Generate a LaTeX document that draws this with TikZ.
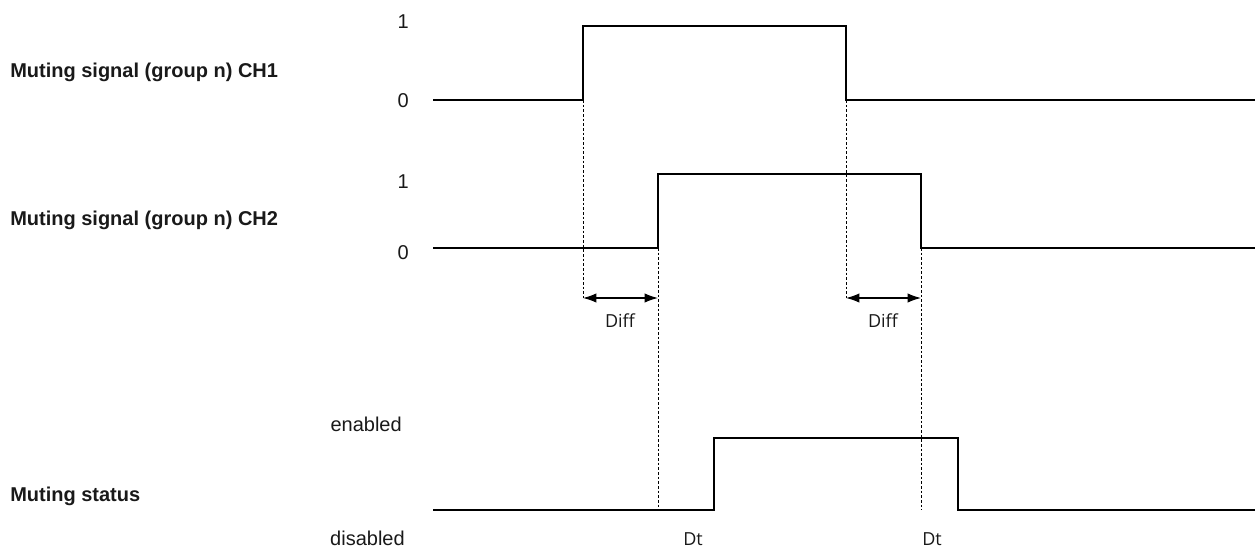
\documentclass[tikz,border=0pt]{standalone}
\usepackage{fontspec}
\setmainfont{Liberation Sans}
\newfontfamily\diffont{Open Sans}
\usepackage{tikz}
\usetikzlibrary{arrows.meta, positioning, calc}

\begin{document}
\begin{tikzpicture}[
    x=0.75pt, y=-0.75pt,
    >={Latex[length=10pt, width=7pt]},
    every node/.style={font=\fontsize{15}{17}\selectfont, text=black!90, inner sep=0pt},
    chanLabel/.style={font=\fontsize{15}{17}\selectfont\bfseries, anchor=west},
    levelLabel/.style={anchor=east},
    timeLabel/.style={font=\diffont\fontsize{13.5}{15}\selectfont},
    signal/.style={draw=black, line width=0.8pt},
    status/.style={draw=black, line width=1.5pt},
    guide/.style={draw=black, line width=0.6pt, dash pattern=on 2pt off 1.5pt},
    span/.style={<->, draw=black, line width=0.9pt}
  ]
    \useasboundingbox (0,0) rectangle (1255,550);

    % channel 1
    \node[chanLabel] (ch1) at (10,72) {Muting signal (group n) CH1};
    \node[levelLabel] (ch1hi) at (409,22) {1};
    \node[levelLabel] (ch1lo) at (409,101) {0};
    \coordinate (a1) at (583,100);
    \coordinate (a2) at (846,100);
    \draw[signal] (433,100) -- (a1) -- (583,26) -- (846,26) -- (a2) -- (1255,100);

    % channel 2
    \node[chanLabel] (ch2) at (10,220) {Muting signal (group n) CH2};
    \node[levelLabel] (ch2hi) at (409,182) {1};
    \node[levelLabel] (ch2lo) at (409,253) {0};
    \coordinate (b1) at (658,248);
    \coordinate (b2) at (921,248);
    \draw[signal] (433,248) -- (b1) -- (658,174) -- (921,174) -- (b2) -- (1255,248);

    % status
    \node[chanLabel] (st) at (10,496) {Muting status};
    \node[levelLabel] (sthi) at (402,424) {enabled};
    \node[levelLabel] (stlo) at (405,538) {disabled};
    \draw[status] (433,510) -- (714,510) -- (714,438) -- (958,438) -- (958,510) -- (1255,510);

    % guides and spans
    \coordinate (a1d) at (583,298);
    \coordinate (a2d) at (846,298);
    \coordinate (b1m) at (658,298);
    \coordinate (b2m) at (921,298);
    \coordinate (b1d) at (658,510);
    \coordinate (b2d) at (921,510);
    \draw[guide] (a1) -- (a1d);
    \draw[guide] (a2) -- (a2d);
    \draw[guide] (b1) -- (b1d);
    \draw[guide] (b2) -- (b2d);
    \draw[span] (a1d) -- (b1m);
    \draw[span] (a2d) -- (b2m);
    \node[timeLabel] (diff1) at (620,321) {Diff};
    \node[timeLabel] (diff2) at (883,321) {Diff};
    \node[timeLabel] (dt1) at (693,539) {Dt};
    \node[timeLabel] (dt2) at (932,539) {Dt};
  \end{tikzpicture}
\end{document}
